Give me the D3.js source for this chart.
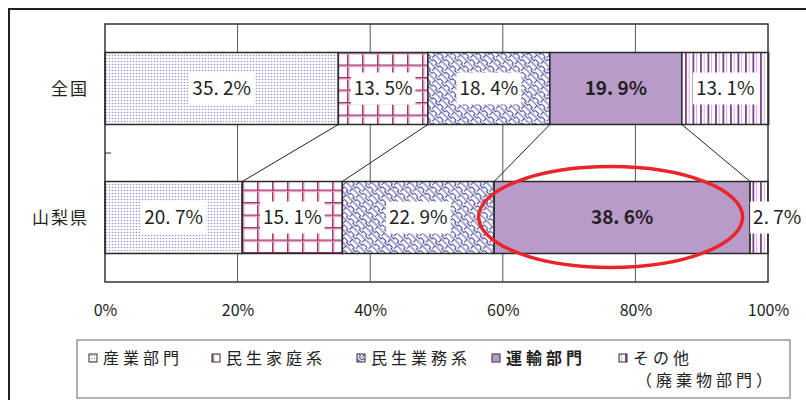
<!DOCTYPE html>
<html>
<head>
<meta charset="utf-8">
<script src="https://cdn.jsdelivr.net/npm/d3@7"></script>
<style>
  html, body { margin: 0; padding: 0; background: #fff; }
  svg { display: block; }
  text { font-family: "Noto Sans CJK JP", "Noto Sans", sans-serif; }
</style>
</head>
<body>
<svg id="chart" width="806" height="400"></svg>
<script>
// ---- data ----
const categories = ["全国", "山梨県"];
const sectors = ["産業部門", "民生家庭系", "民生業務系", "運輸部門", "その他"];
const nationalValues = [35.2, 13.5, 18.4, 19.9, 13.1];
const yamanashiValues = [20.7, 15.1, 22.9, 38.6, 2.7];
const xTickValues = [0, 20, 40, 60, 80, 100];
const legendLines = [["産業部門"], ["民生家庭系"], ["民生業務系"], ["運輸部門"], ["その他", "（廃棄物部門）"]];
const highlightSector = "運輸部門";
const highlightCategory = "山梨県";

// ---- layout ----
const svg = d3.select("#chart");
const plot = { left: 105, right: 768, top: 24, bottom: 282 };
const x = d3.scaleLinear().domain([0, 100]).range([plot.left, plot.right]);
const y = d3.scaleBand().domain(categories).range([plot.top, plot.bottom])
  .paddingInner(0.442).paddingOuter(0.221);

const valuesByCat = { "全国": nationalValues, "山梨県": yamanashiValues };
const stacked = categories.map(c => {
  let acc = 0;
  return valuesByCat[c].map((v, i) => {
    const s = { cat: c, sector: sectors[i], i, v, x0: acc, x1: acc + v };
    acc += v;
    return s;
  });
});

// ---- patterns ----
const defs = svg.append("defs");
// 0: dots
const p0 = defs.append("pattern").attr("id", "pat0").attr("patternUnits", "userSpaceOnUse")
  .attr("width", 3).attr("height", 3);
p0.append("rect").attr("width", 3).attr("height", 3).attr("fill", "#fff");
p0.append("circle").attr("cx", 1.5).attr("cy", 1.5).attr("r", 0.8).attr("fill", "#9494da");
// 1: grid
const p1 = defs.append("pattern").attr("id", "pat1").attr("patternUnits", "userSpaceOnUse")
  .attr("width", 15).attr("height", 12.5).attr("x", 2).attr("y", 2);
p1.append("rect").attr("width", 15).attr("height", 12.5).attr("fill", "#fff");
p1.append("rect").attr("x", 0).attr("y", 0).attr("width", 1.6).attr("height", 12.5).attr("fill", "#a6356f");
p1.append("rect").attr("x", 1.6).attr("y", 0).attr("width", 1).attr("height", 12.5).attr("fill", "#e4b0ca");
p1.append("rect").attr("x", 0).attr("y", 0).attr("width", 15).attr("height", 1.6).attr("fill", "#a6356f");
p1.append("rect").attr("x", 0).attr("y", 1.6).attr("width", 15).attr("height", 1).attr("fill", "#e4b0ca");
// 2: fret (sayagata-like)
const p2 = defs.append("pattern").attr("id", "pat2").attr("patternUnits", "userSpaceOnUse")
  .attr("width", 9).attr("height", 9).attr("patternTransform", "rotate(45)");
p2.append("rect").attr("width", 9).attr("height", 9).attr("fill", "#fff");
p2.append("path")
  .attr("d", "M0,1 H9 M4.5,1 V5.5 M0,5.5 H2.5 M6.5,5.5 H9 M2.5,5.5 V7.5 H6.5 V5.5")
  .attr("fill", "none").attr("stroke", "#4c4ca2").attr("stroke-width", 1.1);
// 4: vertical stripes
const p4 = defs.append("pattern").attr("id", "pat4").attr("patternUnits", "userSpaceOnUse")
  .attr("width", 7.5).attr("height", 10).attr("x", 684);
p4.append("rect").attr("width", 7.5).attr("height", 10).attr("fill", "#fff");
p4.append("rect").attr("x", 1).attr("width", 1.8).attr("height", 10).attr("fill", "#7b3a8d");
p4.append("rect").attr("x", 4.8).attr("width", 0.9).attr("height", 10).attr("fill", "#c9a2d4");

const fills = ["url(#pat0)", "url(#pat1)", "url(#pat2)", "#b99bca", "url(#pat4)"];

// ---- outer frame ----
svg.append("rect").attr("x", 9).attr("y", 9).attr("width", 820).attr("height", 420)
  .attr("fill", "none").attr("stroke", "#222").attr("stroke-width", 2);

// ---- grid ----
svg.append("g").selectAll("line").data(xTickValues.filter(t => t > 0 && t < 100)).join("line")
  .attr("x1", d => x(d)).attr("x2", d => x(d))
  .attr("y1", plot.top).attr("y2", plot.bottom)
  .attr("stroke", "#555").attr("stroke-width", 1);

// ---- connector lines ----
const conn = [];
for (let i = 0; i < sectors.length - 1; i++) {
  conn.push({ a: stacked[0][i].x1, b: stacked[1][i].x1 });
}
svg.append("g").selectAll("line").data(conn).join("line")
  .attr("x1", d => x(d.a)).attr("y1", y(categories[0]) + y.bandwidth())
  .attr("x2", d => x(d.b)).attr("y2", y(categories[1]))
  .attr("stroke", "#222").attr("stroke-width", 1);

// ---- bars ----
const barG = svg.append("g");
stacked.forEach(row => {
  barG.selectAll(null).data(row).join("rect")
    .attr("x", d => x(d.x0)).attr("width", d => x(d.x1) - x(d.x0))
    .attr("y", d => y(d.cat)).attr("height", y.bandwidth())
    .attr("fill", d => fills[d.i])
    .attr("stroke", "#2a2a2a").attr("stroke-width", 1.5);
});

// ---- plot border & y axis ----
svg.append("rect").attr("x", plot.left).attr("y", plot.top)
  .attr("width", plot.right - plot.left).attr("height", plot.bottom - plot.top)
  .attr("fill", "none").attr("stroke", "#333").attr("stroke-width", 1.5);
svg.append("line").attr("x1", plot.left).attr("x2", plot.left + 6)
  .attr("y1", y.step() * 1 + plot.top).attr("y2", y.step() * 1 + plot.top)
  .attr("stroke", "#333").attr("stroke-width", 1);

// ---- value labels ----
const labG = svg.append("g");
stacked.forEach(row => {
  row.forEach(d => {
    const bold = d.sector === highlightSector;
    const segW = x(d.x1) - x(d.x0);
    const cy = y(d.cat) + y.bandwidth() / 2;
    const g = labG.append("g");
    const t = g.append("text")
      .attr("y", cy).attr("dy", "0.36em")
      .attr("font-size", 19)
      .attr("font-weight", bold ? "bold" : "normal")
      .attr("fill", "#222")
      .text(d.v.toFixed(1).replace(".", ". ") + "%");
    t.attr("x", 0).attr("text-anchor", "start");
    const bb = t.node().getBBox();
    let tx;
    if (bb.width + 6 > segW) tx = x(d.x0) + 3;
    else tx = (x(d.x0) + x(d.x1)) / 2 - bb.width / 2;
    t.attr("x", tx);
    if (!bold) {
      const b2 = t.node().getBBox();
      g.insert("rect", "text")
        .attr("x", b2.x - 3).attr("y", cy - 16)
        .attr("width", b2.width + 6).attr("height", 32)
        .attr("fill", "#fff");
    }
  });
});

// ---- category labels ----
svg.append("g").selectAll("text").data(categories).join("text")
  .attr("x", 89).attr("y", d => y(d) + y.bandwidth() / 2).attr("dy", "0.36em")
  .attr("text-anchor", "end").attr("font-size", 17).attr("letter-spacing", 2)
  .attr("fill", "#222").text(d => d);

// ---- x axis labels ----
const xAxis = d3.axisBottom(x).tickValues(xTickValues).tickSize(0).tickPadding(0)
  .tickFormat(d => d + "%");
const ax = svg.append("g").attr("transform", `translate(0,${plot.bottom})`).call(xAxis);
ax.select(".domain").remove();
ax.selectAll("text").attr("y", 28).attr("dy", "0.36em")
  .attr("font-size", 16).attr("fill", "#222").attr("font-family", "'Noto Sans CJK JP', sans-serif");

// ---- highlight ellipse ----
const hl = stacked[1].find(d => d.sector === highlightSector);
svg.append("ellipse")
  .attr("cx", x(hl.x0 + hl.v * 0.455)).attr("cy", y(highlightCategory) + y.bandwidth() / 2 - 0.5)
  .attr("rx", 132).attr("ry", 50.5)
  .attr("fill", "none").attr("stroke", "#e8262a").attr("stroke-width", 3.5);

// ---- legend ----
svg.append("rect").attr("x", 77).attr("y", 340).attr("width", 713).attr("height", 58)
  .attr("fill", "#fff").attr("stroke", "#666").attr("stroke-width", 1);
const legendX = [89, 212, 357, 492, 619];
const legG = svg.append("g");
legendLines.forEach((lines, i) => {
  legG.append("rect").attr("x", legendX[i]).attr("y", 354).attr("width", 8).attr("height", 8)
    .attr("fill", fills[i]).attr("stroke", "#333").attr("stroke-width", 1);
  lines.forEach((ln, j) => {
    legG.append("text")
      .attr("x", j === 0 ? legendX[i] + 14 : legendX[i] + 17)
      .attr("y", 358 + j * 22).attr("dy", "0.36em")
      .attr("font-size", 16).attr("letter-spacing", 4)
      .attr("font-weight", sectors[i] === highlightSector ? "bold" : "normal")
      .attr("fill", "#222").text(ln);
  });
});
</script>
</body>
</html>
